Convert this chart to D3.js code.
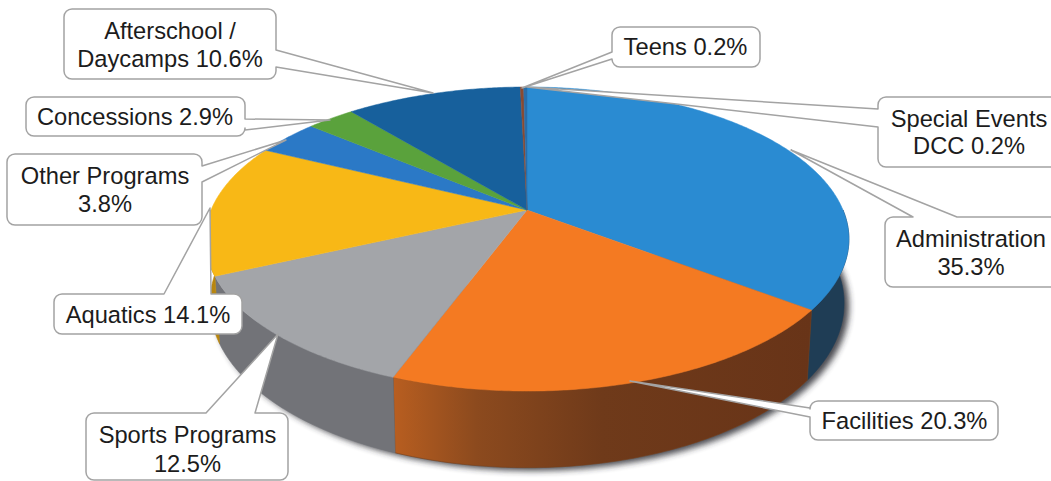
<!DOCTYPE html>
<html>
<head>
<meta charset="utf-8">
<script src="https://cdnjs.cloudflare.com/ajax/libs/d3/7.8.5/d3.min.js"></script>
<style>
  html, body { margin: 0; padding: 0; background: #fff; }
  svg { display: block; }
  text { font-family: "Liberation Sans", Arial, sans-serif; font-size: 23.7px; fill: #1c1c1c; text-anchor: middle; }
</style>
</head>
<body>
<svg id="chart" width="1051" height="481"></svg>
<script>
// Budget share by program area, clockwise from twelve o'clock
const categories = ["Administration", "Facilities", "Sports Programs", "Aquatics", "Other Programs",
                    "Concessions", "Afterschool / Daycamps", "Teens", "Special Events DCC"];
const shares = [35.3, 20.3, 12.5, 14.1, 3.8, 2.9, 10.6, 0.2, 0.2];
const topColors = ["#2a8bd2", "#f47a22", "#a3a5a9", "#f8b816", "#2b79c6", "#5aa23c", "#17609c", "#8a4a30", "#2a6ea8"];
const sideColors = ["#1f3d55", "#74401c", "#727378", "#b8860f", "#1c4f80", "#3c6c28", "#0f3f66", "#5a3020", "#1c4870"];

// Callout boxes: rectangle, wedge base and tip, text lines with baselines
const callouts = [
  { box: [64, 9, 276, 79], pointer: [[276, 50], [433, 93], [276, 67]], lines: [["Afterschool /", 170, 39], ["Daycamps 10.6%", 170, 67]] },
  { box: [26, 97, 245, 136], pointer: [[245, 119], [330, 120], [245, 130]], lines: [["Concessions 2.9%", 135, 125]] },
  { box: [7, 154, 202, 225], pointer: [[202, 166], [286, 140], [202, 182]], lines: [["Other Programs", 105, 184], ["3.8%", 105, 212]] },
  { box: [54, 294, 242, 334], pointer: [[164, 294], [210, 208], [211, 294]], lines: [["Aquatics 14.1%", 148, 323]] },
  { box: [86, 413, 288, 480], pointer: [[206, 413], [278, 334], [255, 413]], lines: [["Sports Programs", 187.5, 443], ["12.5%", 187.5, 472]] },
  { box: [810, 401, 998, 440], pointer: [[810, 408], [630, 381], [810, 417]], lines: [["Facilities 20.3%", 904.5, 429]] },
  { box: [885, 217, 1060, 287], pointer: [[913, 217], [791, 150], [957, 217]], lines: [["Administration", 971, 247], ["35.3%", 971, 275]] },
  { box: [878, 97, 1060, 167], pointer: [[878, 109], [527, 87], [878, 127]], lines: [["Special Events", 969, 127], ["DCC 0.2%", 969, 154]] },
  { box: [612, 27, 760, 67], pointer: [[612, 52], [522, 88], [612, 59]], lines: [["Teens 0.2%", 685.5, 55]] }
];

const svg = d3.select("#chart");
const defs = svg.append("defs");
const blur = defs.append("filter").attr("id", "drop")
  .attr("filterUnits", "userSpaceOnUse").attr("x", 0).attr("y", 0).attr("width", 1051).attr("height", 481);
blur.append("feGaussianBlur").attr("stdDeviation", 3);

// Perspective projection of the tilted disc: a = horizontal radius, b = vertical radius,
// k = foreshortening strength, depth = wall height before perspective
const cx = 527, cy = 210, a = 316, b = 146.5, k = 0.191, depth = 62;
const project = (theta, r, lower) => {
  const u = r * Math.sin(theta), v = -r * Math.cos(theta), w = 1 - k * v;
  return lower
    ? [cx + 0.985 * a * u / w, cy + (b * v + depth) / w]
    : [cx + a * u / w, cy + b * v / w];
};

const pie = d3.pie().sort(null).value(d => d);
const slices = pie(shares);
const line = d3.line();

const rim = (start, end, lower) => {
  const n = Math.max(2, Math.ceil((end - start) / 0.01));
  return d3.range(n + 1).map(i => project(start + (end - start) * i / n, 1, lower));
};

// Soft ground shadow under the front of the wall, falling toward the lower right
svg.append("path")
  .attr("d", line(rim(Math.PI * 0.4, Math.PI * 1.4, true).map(([x, y]) => [x + 5, y + 3])) + "Z")
  .attr("fill", "#2a2b33").attr("opacity", 0.85).attr("filter", "url(#drop)");

// Wall segments, each shaded along the rim
slices.forEach((s, i) => {
  const from = Math.max(s.startAngle, Math.PI * 0.5), to = Math.min(s.endAngle, Math.PI * 1.5);
  if (to <= from) return;
  const upper = rim(from, to, false), lower = rim(from, to, true);
  const gradId = "wall" + i;
  const grad = defs.append("linearGradient").attr("id", gradId).attr("gradientUnits", "userSpaceOnUse")
    .attr("x1", upper[0][0]).attr("x2", upper[upper.length - 1][0]).attr("y1", 0).attr("y2", 0);
  if (categories[i] === "Facilities") {
    [[0, "#683418"], [0.5, "#6f3a1a"], [0.8, "#8c4a1e"], [1, "#b85e20"]].forEach(([o, c]) =>
      grad.append("stop").attr("offset", o).attr("stop-color", c));
  } else {
    grad.append("stop").attr("offset", 0).attr("stop-color", sideColors[i]);
    grad.append("stop").attr("offset", 1).attr("stop-color", sideColors[i]);
  }
  svg.append("path").attr("d", line(upper.concat(lower.slice().reverse())) + "Z")
    .attr("fill", `url(#${gradId})`).attr("stroke", sideColors[i]).attr("stroke-width", 0.6);
});

// Top face of each slice
svg.append("g").selectAll("path").data(slices).join("path")
  .attr("d", s => line([[cx, cy]].concat(rim(s.startAngle, s.endAngle, false))) + "Z")
  .attr("fill", (s, i) => topColors[i])
  .attr("stroke", (s, i) => topColors[i]).attr("stroke-width", 0.5);

// Callouts sit above the pie; each outline runs round the box and out to its tip
const r = 8;
const calloutPath = ({ box: [x0, y0, x1, y1], pointer }) => {
  const p = d3.path();
  const onTop = pointer[0][1] === y0;
  const onRight = pointer[0][0] === x1;
  const onLeft = pointer[0][0] === x0;
  p.moveTo(x0 + r, y0);
  if (onTop) pointer.forEach(q => p.lineTo(q[0], q[1]));
  p.lineTo(x1 - r, y0);
  p.arcTo(x1, y0, x1, y0 + r, r);
  if (onRight) pointer.forEach(q => p.lineTo(q[0], q[1]));
  p.lineTo(x1, y1 - r);
  p.arcTo(x1, y1, x1 - r, y1, r);
  p.lineTo(x0 + r, y1);
  p.arcTo(x0, y1, x0, y1 - r, r);
  if (onLeft) [...pointer].reverse().forEach(q => p.lineTo(q[0], q[1]));
  p.lineTo(x0, y0 + r);
  p.arcTo(x0, y0, x0 + r, y0, r);
  p.closePath();
  return p.toString();
};

const labels = svg.append("g").selectAll("g").data(callouts).join("g");
labels.append("path").attr("d", calloutPath)
  .attr("fill", "#fff").attr("stroke", "#a3a3a3").attr("stroke-width", 1.5).attr("stroke-linejoin", "round");
labels.selectAll("text").data(d => d.lines).join("text")
  .attr("x", d => d[1]).attr("y", d => d[2]).text(d => d[0]);
</script>
</body>
</html>
